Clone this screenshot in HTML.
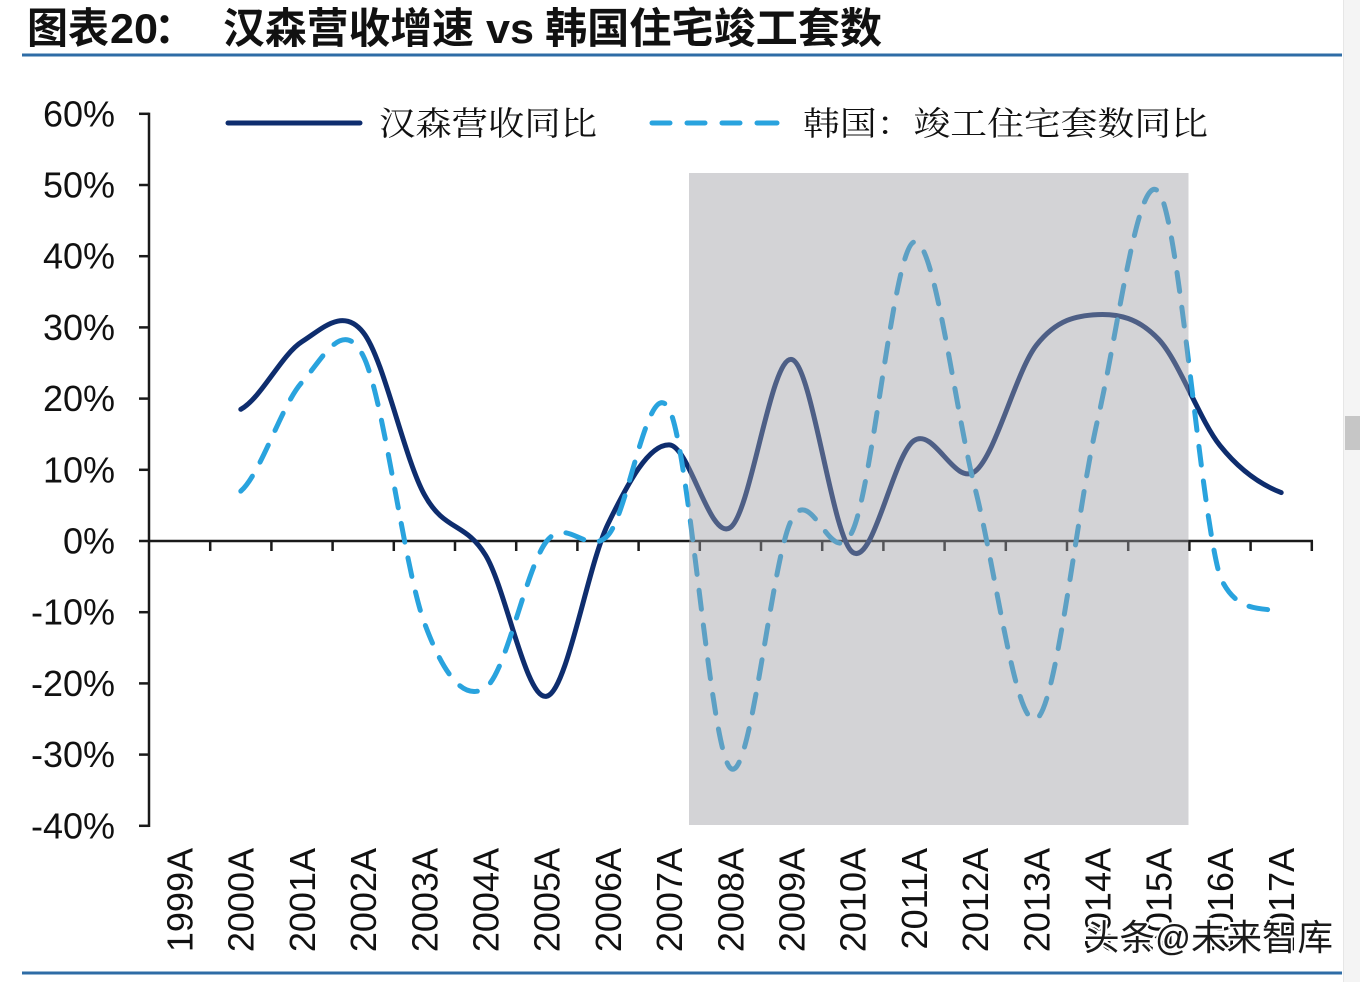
<!DOCTYPE html>
<html>
<head>
<meta charset="utf-8">
<style>
  html, body { margin:0; padding:0; background:#ffffff; }
  body { width:1360px; height:982px; overflow:hidden; }
  svg { display:block; }
  .lbl { font-family:"Liberation Sans","Noto Sans CJK SC",sans-serif; font-size:36px; fill:#111; }
</style>
</head>
<body>
<svg width="1360" height="982" viewBox="0 0 1360 982" xmlns="http://www.w3.org/2000/svg">
  <rect x="0" y="0" width="1360" height="982" fill="#ffffff"/>

  <!-- Title -->
  <g font-family="'Liberation Sans','Noto Sans CJK SC',sans-serif" font-weight="bold" font-size="42" fill="#111">
    <text x="27" y="43" textLength="82" lengthAdjust="spacingAndGlyphs">图表</text>
    <text x="110" y="43" textLength="48" lengthAdjust="spacingAndGlyphs">20</text>
    <text x="154" y="43">：</text>
    <text x="223" y="43" textLength="251" lengthAdjust="spacingAndGlyphs">汉森营收增速</text>
    <text x="486" y="43" textLength="48" lengthAdjust="spacingAndGlyphs">vs</text>
    <text x="545" y="43" textLength="337" lengthAdjust="spacingAndGlyphs">韩国住宅竣工套数</text>
  </g>
  <line x1="22" y1="55" x2="1342" y2="55" stroke="#2e6ca6" stroke-width="3"/>
  <line x1="22" y1="973" x2="1342" y2="973" stroke="#2e6ca6" stroke-width="3"/>

  <!-- Legend -->
  <line x1="228" y1="123" x2="360" y2="123" stroke="#0e2d6e" stroke-width="5" stroke-linecap="round"/>
  <text x="379" y="135" font-family="'Noto Serif CJK SC','Noto Sans CJK SC',serif" font-size="33" fill="#111" textLength="218" lengthAdjust="spacingAndGlyphs">汉森营收同比</text>
  <g stroke="#29a3de" stroke-width="5" stroke-linecap="round">
    <line x1="652" y1="123" x2="670" y2="123"/>
    <line x1="687" y1="123" x2="705" y2="123"/>
    <line x1="722" y1="123" x2="740" y2="123"/>
    <line x1="757" y1="123" x2="777" y2="123"/>
  </g>
  <text x="803" y="135" font-family="'Noto Serif CJK SC','Noto Sans CJK SC',serif" font-size="33" fill="#111" textLength="405" lengthAdjust="spacingAndGlyphs">韩国：竣工住宅套数同比</text>

  <!-- Y axis -->
  <g stroke="#1a1a1a" stroke-width="2.5">
    <line x1="149" y1="112.6" x2="149" y2="827"/>
    <line x1="139" y1="113.8" x2="149" y2="113.8"/>
    <line x1="139" y1="185.0" x2="149" y2="185.0"/>
    <line x1="139" y1="256.2" x2="149" y2="256.2"/>
    <line x1="139" y1="327.4" x2="149" y2="327.4"/>
    <line x1="139" y1="398.6" x2="149" y2="398.6"/>
    <line x1="139" y1="469.8" x2="149" y2="469.8"/>
    <line x1="139" y1="541" x2="149" y2="541"/>
    <line x1="139" y1="612.2" x2="149" y2="612.2"/>
    <line x1="139" y1="683.4" x2="149" y2="683.4"/>
    <line x1="139" y1="754.6" x2="149" y2="754.6"/>
    <line x1="139" y1="825.8" x2="149" y2="825.8"/>
  </g>
  <g class="lbl" text-anchor="end">
    <text x="115" y="126.3">60%</text>
    <text x="115" y="197.5">50%</text>
    <text x="115" y="268.7">40%</text>
    <text x="115" y="339.9">30%</text>
    <text x="115" y="411.1">20%</text>
    <text x="115" y="482.3">10%</text>
    <text x="115" y="553.5">0%</text>
    <text x="115" y="624.7">-10%</text>
    <text x="115" y="695.9">-20%</text>
    <text x="115" y="767.1">-30%</text>
    <text x="115" y="838.3">-40%</text>
  </g>

  <!-- X axis -->
  <g stroke="#1a1a1a" stroke-width="2.5">
    <line x1="148" y1="541" x2="1313" y2="541"/>
    <line x1="210.2" y1="541" x2="210.2" y2="551"/>
    <line x1="271.4" y1="541" x2="271.4" y2="551"/>
    <line x1="332.6" y1="541" x2="332.6" y2="551"/>
    <line x1="393.8" y1="541" x2="393.8" y2="551"/>
    <line x1="455.0" y1="541" x2="455.0" y2="551"/>
    <line x1="516.2" y1="541" x2="516.2" y2="551"/>
    <line x1="577.4" y1="541" x2="577.4" y2="551"/>
    <line x1="638.6" y1="541" x2="638.6" y2="551"/>
    <line x1="699.8" y1="541" x2="699.8" y2="551"/>
    <line x1="761.0" y1="541" x2="761.0" y2="551"/>
    <line x1="822.2" y1="541" x2="822.2" y2="551"/>
    <line x1="883.4" y1="541" x2="883.4" y2="551"/>
    <line x1="944.6" y1="541" x2="944.6" y2="551"/>
    <line x1="1005.8" y1="541" x2="1005.8" y2="551"/>
    <line x1="1067.0" y1="541" x2="1067.0" y2="551"/>
    <line x1="1128.2" y1="541" x2="1128.2" y2="551"/>
    <line x1="1189.4" y1="541" x2="1189.4" y2="551"/>
    <line x1="1250.6" y1="541" x2="1250.6" y2="551"/>
    <line x1="1311.8" y1="541" x2="1311.8" y2="551"/>
  </g>

  <!-- Series: 汉森营收同比 (solid) -->
  <path fill="none" stroke="#0e2d6e" stroke-width="5" stroke-linecap="round" stroke-linejoin="round"
    d="M240.8,409.28
       C261.2,398.03 281.6,354.46 302.0,341.64
       C322.4,328.82 342.8,306.89 363.2,332.38
       C383.6,357.87 404.0,457.55 424.4,494.72
       C444.8,531.89 465.2,521.63 485.6,555.24
       C506.0,588.85 526.4,701.41 546.8,696.22
       C567.2,691.02 587.6,565.78 608.0,523.91
       C628.4,482.05 648.8,444.31 669.2,444.88
       C689.6,445.45 710.0,541.71 730.4,527.47
       C750.8,513.23 771.2,355.31 791.6,359.44
       C812.0,363.57 832.4,538.86 852.8,552.39
       C873.2,565.92 893.6,454.14 914.0,440.61
       C934.4,427.08 954.8,487.10 975.2,471.22
       C995.6,455.35 1016.0,371.33 1036.4,345.20
       C1056.8,319.07 1077.2,315.51 1097.6,314.58
       C1118.0,313.66 1138.4,317.65 1158.8,339.50
       C1179.2,361.36 1199.6,420.10 1220.0,445.59
       C1240.4,471.08 1260.8,484.75 1281.2,492.58"/>

  <!-- Series: 韩国竣工住宅套数同比 (dashed) -->
  <path fill="none" stroke="#29a3de" stroke-width="5" stroke-linecap="round" stroke-linejoin="round"
    stroke-dasharray="19 16"
    d="M240.8,491.16
       C261.2,473.00 281.6,404.79 302.0,382.22
       C322.4,359.65 342.8,315.79 363.2,355.88
       C383.6,395.97 404.0,567.56 424.4,622.88
       C444.8,678.20 465.2,701.34 485.6,687.67
       C506.0,674.00 526.4,566.42 546.8,541.00
       C567.2,515.58 587.6,557.23 608.0,535.30
       C628.4,513.37 648.8,370.48 669.2,409.28
       C689.6,448.08 710.0,749.76 730.4,768.13
       C750.8,786.50 771.2,559.30 791.6,519.64
       C812.0,479.98 832.4,576.60 852.8,530.32
       C873.2,484.04 893.6,248.87 914.0,241.96
       C934.4,235.05 954.8,409.49 975.2,489.02
       C995.6,568.55 1016.0,730.53 1036.4,719.00
       C1056.8,707.47 1077.2,507.75 1097.6,419.96
       C1118.0,332.17 1138.4,165.99 1158.8,192.12
       C1179.2,218.25 1199.6,506.82 1220.0,576.60
       C1236.0,612.00 1258.0,608.00 1281.2,610.78"/>

  <!-- Shaded period overlay -->
  <rect x="689" y="173" width="499.5" height="652" fill="rgb(157,158,163)" fill-opacity="0.45"/>

  <!-- X labels (rotated) -->
  <g class="lbl" text-anchor="end">
    <text transform="translate(192.5,848) rotate(-90)">1999A</text>
    <text transform="translate(253.7,848) rotate(-90)">2000A</text>
    <text transform="translate(314.9,848) rotate(-90)">2001A</text>
    <text transform="translate(376.1,848) rotate(-90)">2002A</text>
    <text transform="translate(437.3,848) rotate(-90)">2003A</text>
    <text transform="translate(498.5,848) rotate(-90)">2004A</text>
    <text transform="translate(559.7,848) rotate(-90)">2005A</text>
    <text transform="translate(620.9,848) rotate(-90)">2006A</text>
    <text transform="translate(682.1,848) rotate(-90)">2007A</text>
    <text transform="translate(743.3,848) rotate(-90)">2008A</text>
    <text transform="translate(804.5,848) rotate(-90)">2009A</text>
    <text transform="translate(865.7,848) rotate(-90)">2010A</text>
    <text transform="translate(926.9,848) rotate(-90)">2011A</text>
    <text transform="translate(988.1,848) rotate(-90)">2012A</text>
    <text transform="translate(1049.3,848) rotate(-90)">2013A</text>
    <text transform="translate(1110.5,848) rotate(-90)">2014A</text>
    <text transform="translate(1171.7,848) rotate(-90)">2015A</text>
    <text transform="translate(1232.9,848) rotate(-90)">2016A</text>
    <text transform="translate(1294.1,848) rotate(-90)">2017A</text>
  </g>

  <!-- Watermark -->
  <text x="1084" y="950" font-family="'Liberation Sans','Noto Sans CJK SC',sans-serif" font-size="36"
        fill="#1a1a1a" stroke="#ffffff" stroke-width="4" paint-order="stroke" textLength="249" lengthAdjust="spacingAndGlyphs">头条@未来智库</text>

  <!-- Scrollbar -->
  <rect x="1343" y="0" width="17" height="982" fill="#f4f4f4"/>
  <line x1="1343.5" y1="0" x2="1343.5" y2="982" stroke="#e6e6e6" stroke-width="1"/>
  <rect x="1345" y="416" width="15" height="34" fill="#c6c6c6"/>
</svg>
</body>
</html>
